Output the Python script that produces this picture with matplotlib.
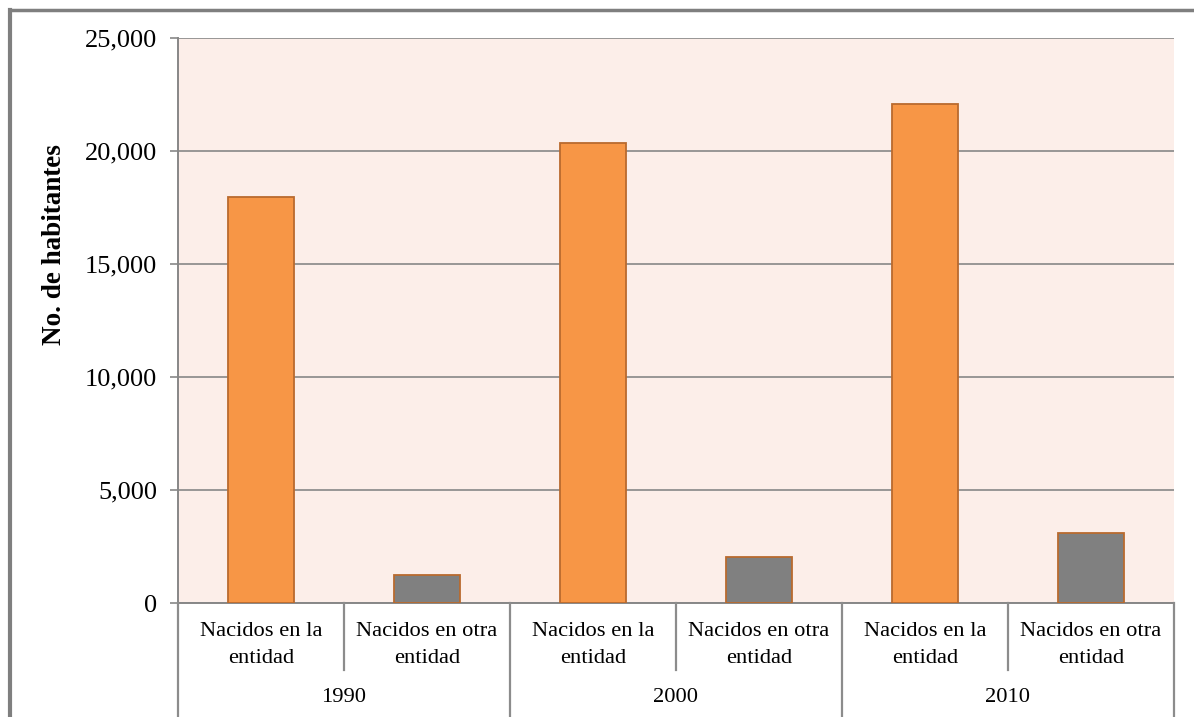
import matplotlib
matplotlib.use("Agg")
import matplotlib.pyplot as plt
import matplotlib.transforms as mtransforms
from matplotlib.lines import Line2D

years = ["1990", "2000", "2010"]
subcats = ["Nacidos en la\nentidad", "Nacidos en otra\nentidad"]
nacidos_entidad = [17930, 20340, 22050]
nacidos_otra = [1225, 2050, 3080]
yticks = [0, 5000, 10000, 15000, 20000, 25000]
ytick_labels = ["0", "5,000", "10,000", "15,000", "20,000", "25,000"]

plt.rcParams['font.family'] = ['Liberation Serif', 'DejaVu Serif']

W, H = 1194, 717
fig = plt.figure(figsize=(W / 100, H / 100), dpi=100)
left, right, top, bottom = 178, 1174, 37.5, 603
ax = fig.add_axes([left / W, 1 - bottom / H, (right - left) / W, (bottom - top) / H])
ax.set_facecolor('#FCEEE9')

values = []
colors = []
for e, o in zip(nacidos_entidad, nacidos_otra):
    values += [e, o]
    colors += ['#F79646', '#808080']
xs = list(range(len(values)))
ax.bar(xs, values, width=0.4, color=colors, edgecolor='#B96A2E', linewidth=1.3, zorder=3)

ax.set_xlim(-0.5, len(values) - 0.5)
ax.set_ylim(0, 25000)
ax.set_yticks(yticks)
ax.set_yticklabels(ytick_labels, fontsize=19)
ax.yaxis.grid(True, color='#878787', linewidth=1.2, zorder=0)
ax.set_axisbelow(True)
ax.tick_params(axis='y', length=6, width=1.2, color='#878787', pad=9)
ax.set_xticks([])
for s in ['top', 'right']:
    ax.spines[s].set_visible(False)
for s in ['left', 'bottom']:
    ax.spines[s].set_color('#878787')
    ax.spines[s].set_linewidth(1.4)

fig.text(55 / W, 1 - 245 / H, "No. de habitantes", rotation=90, ha='center', va='center',
         fontsize=19.5, fontweight='bold')

# multi-level category axis
tr = mtransforms.blended_transform_factory(ax.transData, fig.transFigure)
yb = 1 - bottom / H
y_inner = 1 - 670 / H
y_end = 0.0
for i in range(len(years)):
    xm = 2 * i + 0.5
    fig.add_artist(Line2D([xm, xm], [yb, y_inner], transform=tr, color='#8C8C8C', lw=1.6))
for i in range(len(years) + 1):
    xb = 2 * i - 0.5
    fig.add_artist(Line2D([xb, xb], [yb, y_end], transform=tr, color='#8C8C8C', lw=1.6))
for i, yr in enumerate(years):
    for j, sc in enumerate(subcats):
        fig.text(2 * i + j, 1 - 645 / H, sc, transform=tr, ha='center', va='center',
                 fontsize=16.2, linespacing=1.55)
    fig.text(2 * i + 0.5, 1 - 697 / H, yr, transform=tr, ha='center', va='center', fontsize=16.2)

# outer frame (left and top visible)
fig.add_artist(Line2D([10 / W, 10 / W], [0, 1 - 10 / H], transform=fig.transFigure,
                      color='#7F7F7F', lw=3))
fig.add_artist(Line2D([10 / W, 1], [1 - 9.5 / H, 1 - 9.5 / H], transform=fig.transFigure,
                      color='#7F7F7F', lw=2.5))

fig.savefig("out.png", dpi=100)
